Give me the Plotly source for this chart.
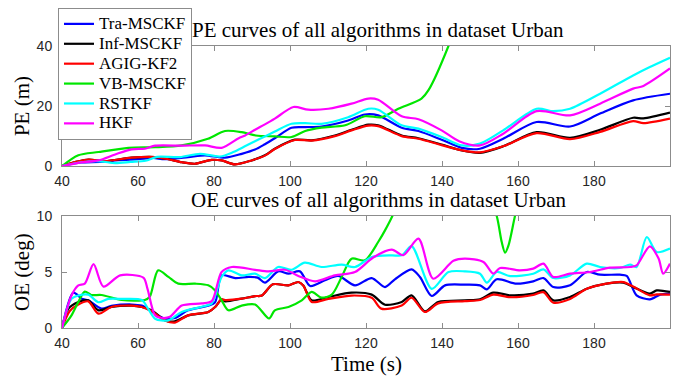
import plotly.graph_objects as go

names = ["Tra-MSCKF", "Inf-MSCKF", "AGIG-KF2", "VB-MSCKF", "RSTKF", "HKF"]
colors = ["#0000ff", "#000000", "#ff0000", "#00e600", "#00ffff", "#ff00ff"]

# ---------- PE data (m) ----------
pe_t_tra = [40, 45, 50, 55, 60, 64, 67, 73.2, 77.6, 82.9, 87.3, 90.8, 93.4, 96, 100.4, 104, 108.3, 115.3, 119.7, 123.2, 129.4, 133.8, 139.9, 145.2, 150, 156.1, 164.9, 173.7, 181.6, 190.3, 200]
pe_tra = [0, 1.2, 1.4, 2.0, 2.3, 2.7, 2.3, 3.0, 3.6, 2.8, 4.1, 5.5, 7.3, 9.3, 12.8, 13.0, 13.2, 15.2, 17.2, 16.9, 12.8, 11.7, 8.8, 6.1, 5.8, 9.1, 14.7, 13.2, 17.5, 21.9, 24.1]

pe_t_inf = [40, 44, 47, 51.3, 58.3, 64.5, 68, 71.5, 75, 79.4, 82, 85.5, 89.9, 93.4, 96, 101.3, 105.7, 111.8, 116.2, 120.6, 123.2, 129.4, 133.8, 139.9, 145.2, 150, 156.1, 164.9, 173.7, 181.6, 190.3, 193, 200]
pe_inf = [0, 1.5, 2.2, 1.7, 2.8, 3.0, 2.3, 1.3, 0.8, 2.1, 1.9, 0.6, 1.9, 3.6, 5.8, 8.8, 8.6, 10.2, 12.1, 13.8, 13.6, 10.2, 9.3, 7.2, 5.2, 4.4, 6.6, 11.3, 9.4, 12.1, 16.1, 15.9, 17.8]

pe_t_agig = [40, 44, 47, 51.3, 58.3, 64.5, 68, 71.5, 75, 79.4, 82, 85.5, 89.9, 93.4, 96, 101.3, 105.7, 111.8, 116.2, 120.6, 123.2, 129.4, 133.8, 139.9, 145.2, 150, 156.1, 164.9, 173.7, 181.6, 190.3, 193, 200]
pe_agig = [0, 1.5, 2.2, 1.7, 2.8, 3.0, 2.3, 1.3, 0.8, 2.1, 1.9, 0.6, 1.9, 3.5, 5.7, 8.7, 8.5, 10.0, 11.9, 13.5, 13.3, 10.0, 9.1, 7.0, 5.3, 4.6, 6.6, 11.0, 9.0, 11.4, 15.0, 14.3, 15.8]

pe_t_vb = [40, 44.3, 49.6, 57.5, 64.5, 71.5, 78.4, 82.9, 87.3, 91, 96, 100.4, 104, 108.3, 114.5, 119.7, 124.1, 128.5, 134.6, 136.4, 141.7, 145, 150]
pe_vb = [0, 3.6, 4.7, 6.1, 6.3, 6.9, 9.1, 11.7, 11.3, 10.2, 9.9, 9.7, 11.7, 12.8, 13.6, 16.6, 16.3, 19.1, 22.5, 25.2, 40, 52, 65]

pe_t_rst = [40, 45, 50, 54, 58, 62, 65, 71, 76.3, 81.6, 85.1, 88, 92.1, 96, 100.4, 104, 108.3, 115.3, 120.6, 123.2, 129.4, 133.8, 139.9, 145.2, 150, 156.1, 164.9, 169.3, 173.7, 181.6, 190.3, 194.7, 200]
pe_rst = [0, 1.3, 1.6, 1.0, 1.4, 1.8, 3.1, 3.0, 4.1, 3.2, 4.7, 6.5, 9.1, 11.5, 14.1, 14.3, 14.1, 16.3, 19.1, 18.8, 13.6, 12.5, 9.7, 6.9, 7.5, 11.9, 19.1, 18.3, 19.1, 24.1, 30.2, 33.0, 36.1]

pe_t_hkf = [40, 44.3, 49.6, 54, 58.3, 61.8, 64.5, 71.5, 77.6, 82, 86.5, 88.2, 90.8, 93.4, 96, 100.9, 104.8, 110.1, 116.2, 120.6, 123.2, 129.4, 133.8, 139.9, 144.5, 150, 156.1, 164.9, 173.7, 181.6, 190.3, 193, 200]
pe_hkf = [0, 1.1, 1.9, 3.9, 5.6, 5.8, 6.8, 6.8, 6.9, 6.1, 9.3, 10.2, 12.1, 13.9, 15.8, 19.7, 18.8, 19.1, 20.8, 22.5, 22.1, 16.6, 15.6, 11.9, 8.3, 6.9, 10.8, 18.3, 16.9, 20.8, 25.8, 26.7, 32.5]

# ---------- OE data (deg) ----------
oe_t_tra = [40, 43, 45.2, 46.9, 50.4, 53, 58.3, 61, 64.5, 67.1, 69.7, 73.2, 78.5, 80.3, 82, 85.6, 89.1, 91.5, 93.4, 96.9, 99.6, 102.6, 105.3, 109.2, 112.7, 117.1, 121.5, 125, 127.6, 132, 134.2, 137.3, 140.8, 146, 150, 151.8, 154.4, 159.6, 164, 166.7, 169.3, 173.7, 178.1, 181.6, 186.8, 188.6, 191.2, 194.7, 197.4, 200]
oe_tra = [0, 3.16, 2.62, 2.47, 1.73, 1.97, 2.1, 2.0, 1.28, 0.83, 0.89, 1.58, 2.0, 2.3, 4.7, 4.46, 4.56, 4.5, 4.05, 5.06, 4.85, 5.06, 3.75, 4.26, 4.65, 3.81, 4.46, 3.66, 4.35, 5.24, 4.56, 2.86, 3.81, 3.87, 3.81, 3.45, 4.35, 3.96, 4.17, 4.46, 3.66, 3.81, 5.0, 4.76, 4.76, 4.65, 2.92, 2.56, 2.98, 3.07]

oe_t_inf = [40, 41.7, 44.3, 46.9, 49.6, 53, 58.3, 61, 63.6, 67.1, 69.7, 73.2, 78.5, 80.3, 82, 82.9, 87.3, 90.8, 92.6, 95.5, 99.6, 102.2, 103.5, 105.7, 110.1, 116.2, 121.5, 125, 129.4, 132, 135.5, 139, 146, 150, 153.5, 157.9, 164, 166.7, 169.3, 173.7, 178.1, 183.3, 187.7, 190.3, 194.7, 196.5, 200]
oe_inf = [0, 1.73, 2.33, 2.47, 1.58, 1.88, 2.0, 1.88, 1.58, 0.68, 0.6, 1.13, 1.43, 1.88, 2.56, 2.38, 2.62, 2.85, 2.9, 3.9, 3.81, 4.11, 3.8, 2.47, 2.77, 3.16, 2.98, 2.08, 2.33, 2.92, 1.49, 2.33, 2.47, 2.56, 3.16, 2.92, 3.07, 3.36, 2.47, 2.77, 3.51, 3.96, 4.05, 3.66, 3.07, 3.36, 3.22]

oe_t_agig = [40, 42, 44.3, 46.9, 49.6, 53, 58.3, 61, 63.6, 67.1, 69.7, 73.2, 78.5, 80.3, 82, 82.9, 87.3, 90.8, 92.6, 95.5, 99.6, 102.2, 103.5, 105.7, 110.1, 116.2, 121.5, 124, 129.4, 132, 135.5, 139, 146, 150, 153.5, 157.9, 164, 166.7, 169.3, 173.7, 178.1, 183.3, 187.7, 190.3, 194.7, 196.5, 200]
oe_agig = [0, 1.5, 2.1, 2.38, 1.28, 1.88, 2.0, 1.88, 1.5, 0.68, 0.48, 1.13, 1.43, 1.88, 2.56, 2.5, 2.62, 2.85, 2.9, 3.9, 3.81, 4.11, 3.8, 2.33, 2.6, 2.9, 2.7, 1.73, 2.0, 2.7, 1.43, 2.2, 2.4, 2.5, 2.98, 2.75, 2.95, 3.2, 2.26, 2.6, 3.5, 3.96, 4.1, 3.7, 2.92, 3.0, 2.98]

oe_t_vb = [40, 42.5, 44.3, 46, 47.7, 50.4, 55.7, 61.8, 63.1, 65.3, 68, 70.6, 75, 78.5, 80.3, 82, 83.8, 87.3, 90.8, 94.5, 96, 99.6, 103.1, 105.7, 108.3, 111, 113.6, 116.2, 119.7, 123.2, 125, 127.2, 130, 142, 151, 154.4, 155.7, 156.6, 157.5, 159.2, 162, 170]
oe_vb = [0, 1.13, 2.33, 3.25, 2.95, 2.95, 2.5, 2.5, 2.8, 5.15, 4.56, 3.96, 3.96, 3.81, 3.36, 2.47, 1.58, 2.0, 2.1, 0.85, 1.58, 1.88, 2.47, 3.22, 2.71, 2.98, 4.56, 6.19, 6.04, 7.68, 8.72, 10.2, 13, 16, 13, 10, 7.7, 6.73, 7.38, 10, 14, 20]

oe_t_rst = [40, 42.5, 44.3, 46.9, 49.6, 52.2, 55.7, 61, 62.7, 64.5, 68, 71.5, 76.8, 79.4, 82, 83.8, 87.3, 90.8, 93.4, 96.9, 100.4, 103.9, 108.3, 113.6, 117.1, 121.5, 126.8, 129.4, 132, 137.3, 141.7, 146, 150, 151.8, 154.4, 157.9, 164, 166.7, 169.3, 173.7, 178.1, 181.6, 186.8, 189.5, 191.2, 193.9, 196.5, 200]
oe_rst = [0, 2.6, 2.9, 2.98, 2.3, 2.6, 2.6, 2.5, 1.7, 0.83, 0.68, 1.43, 1.9, 2.2, 4.56, 5.15, 4.7, 4.85, 4.46, 5.45, 5.2, 5.84, 5.45, 5.66, 5.45, 6.34, 6.49, 6.49, 7.32, 3.5, 5.0, 5.06, 4.85, 4.05, 5.0, 4.64, 4.85, 5.24, 4.46, 4.7, 5.75, 5.45, 5.36, 5.66, 5.45, 8.13, 6.79, 7.1]

oe_t_hkf = [40, 42.5, 44.3, 46, 48.3, 50.9, 55.3, 61.4, 62.5, 64.5, 66.2, 68.4, 71.5, 76.8, 79.4, 82, 84.7, 90.8, 94.3, 98.7, 102.2, 106.6, 111.8, 117.1, 121.9, 126.8, 129.8, 133.8, 137.7, 143, 146, 150.9, 153.5, 155.3, 160.5, 164, 166.7, 169.3, 173.7, 178.9, 184.2, 189.5, 191.2, 194.7, 197, 198.2, 200]
oe_hkf = [0, 2.9, 3.8, 3.96, 5.7, 3.7, 4.7, 4.5, 3.5, 1.13, 0.9, 1.0, 2.0, 2.2, 2.4, 5.0, 5.45, 5.2, 5.06, 5.2, 4.65, 4.17, 4.7, 5.0, 6.3, 7.0, 6.5, 7.98, 4.4, 6.0, 6.2, 5.9, 4.86, 5.36, 5.15, 5.3, 5.75, 4.56, 4.85, 5.0, 5.39, 5.45, 5.6, 7.3, 6.2, 4.85, 5.75]

pe_sets = [(pe_t_tra, pe_tra), (pe_t_inf, pe_inf), (pe_t_agig, pe_agig), (pe_t_vb, pe_vb), (pe_t_rst, pe_rst), (pe_t_hkf, pe_hkf)]
oe_sets = [(oe_t_tra, oe_tra), (oe_t_inf, oe_inf), (oe_t_agig, oe_agig), (oe_t_vb, oe_vb), (oe_t_rst, oe_rst), (oe_t_hkf, oe_hkf)]

x_ticks = [40, 60, 80, 100, 120, 140, 160, 180]
pe_ticks = [0, 20, 40]
oe_ticks = [0, 5, 10]

serif = "Liberation Serif, Times New Roman, serif"

fig = go.Figure()
for i, (t, v) in enumerate(pe_sets):
    fig.add_trace(go.Scatter(x=t, y=v, mode="lines",
                             name="<span style='font-size:17px;font-family:Liberation Serif'>" + names[i] + "</span>",
                             line=dict(color=colors[i], width=2.2, shape="spline", smoothing=0.8),
                             xaxis="x", yaxis="y"))
for i, (t, v) in enumerate(oe_sets):
    fig.add_trace(go.Scatter(x=t, y=v, mode="lines", name=names[i], showlegend=False,
                             line=dict(color=colors[i], width=2.2, shape="spline", smoothing=0.8),
                             xaxis="x2", yaxis="y2"))

gray = "#8c8c8c"
tickfont = dict(family="Liberation Sans, Arial, sans-serif", size=14, color="#262626")
common = dict(showline=True, linecolor=gray, linewidth=1, mirror="ticks", ticks="inside",
              ticklen=5, tickcolor=gray, showgrid=False, zeroline=False, tickfont=tickfont)

fig.update_layout(
    width=675, height=379,
    margin=dict(l=62, r=5, t=46, b=51),
    paper_bgcolor="white", plot_bgcolor="white",
    xaxis=dict(domain=[0, 1], range=[40, 200], tickvals=x_ticks, anchor="y", ticklabelstandoff=2, **common),
    yaxis=dict(domain=[0.574, 1], range=[0, 40], tickvals=pe_ticks, anchor="x", ticklabelstandoff=6, **common),
    xaxis2=dict(domain=[0, 1], range=[40, 200], tickvals=x_ticks, anchor="y2", ticklabelstandoff=2, **common),
    yaxis2=dict(domain=[0, 0.397], range=[0, 10], tickvals=oe_ticks, anchor="x2", ticklabelstandoff=6, **common),
    legend=dict(x=-0.0066, y=1.135, xanchor="left", yanchor="top",
                bgcolor="white", bordercolor=gray, borderwidth=1,
                font=dict(family=serif, size=13, color="black"),
                itemwidth=30, tracegroupgap=0),
    annotations=[
        dict(text="PE curves of all algorithms in dataset Urban", x=0.52, y=1.007,
             xref="paper", yref="paper", xanchor="center", yanchor="bottom", showarrow=False,
             font=dict(family=serif, size=21, color="black")),
        dict(text="OE curves of all algorithms in dataset Urban", x=0.52, y=0.404,
             xref="paper", yref="paper", xanchor="center", yanchor="bottom", showarrow=False,
             font=dict(family=serif, size=21, color="black")),
        dict(text="Time (s)", x=0.5, y=-0.177,
             xref="paper", yref="paper", xanchor="center", yanchor="bottom", showarrow=False,
             font=dict(family=serif, size=21, color="black")),
        dict(text="PE (m)", x=-0.0658, y=0.787, textangle=-90,
             xref="paper", yref="paper", xanchor="center", yanchor="middle", showarrow=False,
             font=dict(family=serif, size=21, color="black")),
        dict(text="OE (deg)", x=-0.0658, y=0.199, textangle=-90,
             xref="paper", yref="paper", xanchor="center", yanchor="middle", showarrow=False,
             font=dict(family=serif, size=21, color="black")),
    ],
)

fig.write_html("out.html", config={"displayModeBar": False},
               post_script="document.body.style.margin='0';")
